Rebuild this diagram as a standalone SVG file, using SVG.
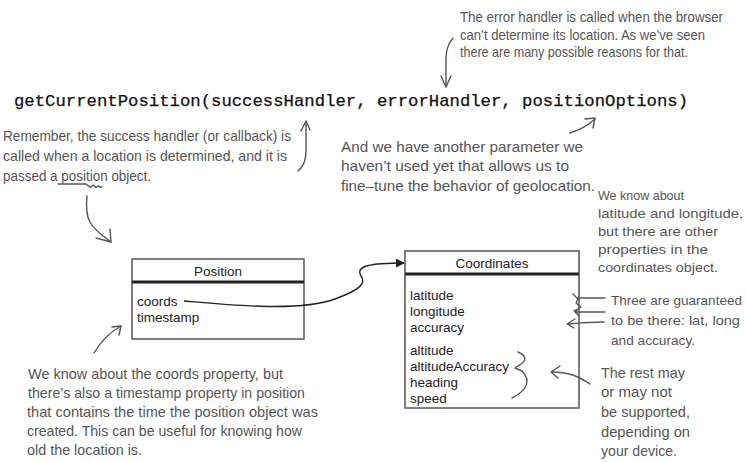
<svg xmlns="http://www.w3.org/2000/svg" width="746" height="462" viewBox="0 0 746 462">
<defs>
<style>
.note{font-family:"Liberation Sans","DejaVu Sans",sans-serif;font-size:14.5px;fill:#555;}
.sm{font-size:13.5px;}
.code{font-family:"Liberation Mono","DejaVu Sans Mono",monospace;font-size:17px;fill:#111;stroke:#111;stroke-width:0.25;}
.box{fill:#fff;stroke:#555;stroke-width:1.5;}
.div{stroke:#222;stroke-width:3;}
.lbl{font-family:"Liberation Sans",Arial,sans-serif;font-size:13.5px;fill:#222;}
.hand{fill:none;stroke:#555;stroke-width:1.4;stroke-linecap:round;stroke-linejoin:round;}
.conn{fill:none;stroke:#222;stroke-width:1.4;}
</style>
<marker id="ah" viewBox="0 0 10 10" refX="9" refY="5" markerWidth="9" markerHeight="9" markerUnits="userSpaceOnUse" orient="auto">
<path d="M0,0 L10,5 L0,10 Z" fill="#222"/>
</marker>
</defs>
<rect width="746" height="462" fill="#fff"/>

<text class="code" x="14" y="106" textLength="674" lengthAdjust="spacingAndGlyphs">getCurrentPosition(successHandler, errorHandler, positionOptions)</text>

<g id="note-error">
<text class="note" x="460" y="22" textLength="263" lengthAdjust="spacingAndGlyphs">The error handler is called when the browser</text>
<text class="note" x="460" y="40" textLength="245" lengthAdjust="spacingAndGlyphs">can’t determine its location.  As we’ve seen</text>
<text class="note" x="460" y="57" textLength="228" lengthAdjust="spacingAndGlyphs">there are many possible reasons for that.</text>
</g>

<g id="note-success">
<text class="note" x="3" y="141" textLength="288" lengthAdjust="spacingAndGlyphs">Remember, the success handler (or callback) is</text>
<text class="note" x="3" y="161" textLength="284" lengthAdjust="spacingAndGlyphs">called when a location is determined, and it is</text>
<text class="note" x="3" y="181" textLength="148" lengthAdjust="spacingAndGlyphs">passed a position object.</text>
</g>

<g id="note-options">
<text class="note" x="341" y="152" textLength="242" lengthAdjust="spacingAndGlyphs">And we have another parameter we</text>
<text class="note" x="341" y="171" textLength="228" lengthAdjust="spacingAndGlyphs">haven’t used yet that allows us to</text>
<text class="note" x="341" y="191" textLength="254" lengthAdjust="spacingAndGlyphs">fine–tune the behavior of geolocation.</text>
</g>

<g id="note-latlong">
<text class="note sm" x="598" y="200" textLength="86" lengthAdjust="spacingAndGlyphs">We know about</text>
<text class="note sm" x="598" y="218" textLength="145" lengthAdjust="spacingAndGlyphs">latitude and longitude,</text>
<text class="note sm" x="598" y="236" textLength="120" lengthAdjust="spacingAndGlyphs">but there are other</text>
<text class="note sm" x="598" y="254" textLength="110" lengthAdjust="spacingAndGlyphs">properties in the</text>
<text class="note sm" x="598" y="272" textLength="120" lengthAdjust="spacingAndGlyphs">coordinates object.</text>
</g>

<g id="note-guaranteed">
<text class="note sm" x="611" y="305" textLength="131" lengthAdjust="spacingAndGlyphs">Three are guaranteed</text>
<text class="note sm" x="611" y="325" textLength="129" lengthAdjust="spacingAndGlyphs">to be there: lat, long</text>
<text class="note sm" x="611" y="345" textLength="84" lengthAdjust="spacingAndGlyphs">and accuracy.</text>
</g>

<g id="note-rest">
<text class="note" x="601" y="378" textLength="84" lengthAdjust="spacingAndGlyphs">The rest may</text>
<text class="note" x="601" y="397" textLength="71" lengthAdjust="spacingAndGlyphs">or may not</text>
<text class="note" x="601" y="417" textLength="89" lengthAdjust="spacingAndGlyphs">be supported,</text>
<text class="note" x="601" y="437" textLength="89" lengthAdjust="spacingAndGlyphs">depending on</text>
<text class="note" x="601" y="456" textLength="76" lengthAdjust="spacingAndGlyphs">your device.</text>
</g>

<g id="note-timestamp">
<text class="note" x="28" y="379" textLength="255" lengthAdjust="spacingAndGlyphs">We know about the coords property, but</text>
<text class="note" x="28" y="398" textLength="277" lengthAdjust="spacingAndGlyphs">there’s also a timestamp property in position</text>
<text class="note" x="27" y="417" textLength="291" lengthAdjust="spacingAndGlyphs">that contains the time the position object was</text>
<text class="note" x="27" y="436" textLength="275" lengthAdjust="spacingAndGlyphs">created. This can be useful for knowing how</text>
<text class="note" x="27" y="455" textLength="115" lengthAdjust="spacingAndGlyphs">old the location is.</text>
</g>

<g id="position">
<rect class="box" x="132" y="259" width="172" height="80"/>
<line class="div" x1="132" y1="282" x2="304" y2="282"/>
<text class="lbl" x="218" y="276" text-anchor="middle">Position</text>
<text class="lbl" x="137" y="306">coords</text>
<text class="lbl" x="137" y="322">timestamp</text>
</g>

<g id="coordinates">
<rect class="box" x="405" y="251" width="174" height="157"/>
<line class="div" x1="405" y1="274" x2="579" y2="274"/>
<text class="lbl" x="492" y="268" text-anchor="middle">Coordinates</text>
<text class="lbl" x="410" y="300">latitude</text>
<text class="lbl" x="410" y="316">longitude</text>
<text class="lbl" x="410" y="332">accuracy</text>
<text class="lbl" x="410" y="355">altitude</text>
<text class="lbl" x="410" y="371">altitudeAccuracy</text>
<text class="lbl" x="410" y="387">heading</text>
<text class="lbl" x="410" y="403">speed</text>
</g>

<g id="connectors">
<path class="conn" marker-end="url(#ah)" d="M184,301 C230,305 300,312 335,299 C362,289 366,283 361,276 C355,266 370,263 404,263"/>
<path class="hand" d="M453,38 C447,45 446,52 446,62 L446,86"/>
<path class="hand" d="M441,76 L446,87 L451,76"/>
<path class="hand" d="M298,171 C305,165 306,158 306,148 L306,122"/>
<path class="hand" d="M301,131 L306,121 L310,130"/>
<path class="hand" d="M58,184 L86,184 C89,186 90,189 92,186 C94,183 95,189 97,187 C99,184 100,189 102,187"/>
<path class="hand" d="M87,196 C86,206 86,215 90,222 C95,231 103,236 111,242"/>
<path class="hand" d="M110,229 L111,242 L96,238"/>
<path class="hand" d="M570,133 C578,130 585,128 595,119"/>
<path class="hand" d="M585,119 L595,118 L593,128"/>
<path class="hand" d="M94,353 C100,343 108,333 121,326"/>
<path class="hand" d="M112,327 L121,326 L119,335"/>
<path class="hand" d="M605,298 L577,298 M573,294 L578,299 L576,303 L581,307 L574,311 M605,312 L575,312 M579,308 L575,312 L579,316 M604,322 Q590,322 568,324 M575,319 L567,324 L574,328"/>
<path class="hand" d="M518,352 C528,356 526,362 518,366 L515,368 L522,371 C531,380 528,390 512,398"/>
<path class="hand" d="M590,384 C578,376 568,372 552,372"/>
<path class="hand" d="M560,366 L551,372 L558,378"/>
</g>
</svg>
